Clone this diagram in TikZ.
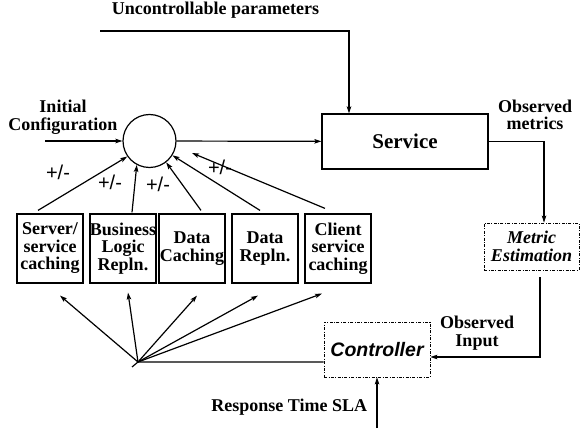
\documentclass[tikz,border=0pt]{standalone}
\usepackage{fontspec}
\setmainfont{Liberation Serif}
\setsansfont{Liberation Sans}
\usetikzlibrary{arrows.meta}
\newcommand{\lbl}{\fontsize{18}{17.5}\selectfont\bfseries}
\tikzset{
  arr/.style={-{Stealth[length=7pt,width=4.5pt,inset=1.5pt]}},
  knob/.style={draw, rectangle, minimum width=66pt, minimum height=69pt, inner sep=0pt, align=center, font=\lbl},
  estbox/.style={draw, dash pattern=on 3pt off 1.5pt on 0.8pt off 1.5pt, line width=0.8pt, rectangle, inner sep=0pt, align=center},
  sign/.style={font=\sffamily\fontsize{20}{20}\selectfont}
}

\begin{document}
\begin{tikzpicture}[x=1pt, y=-1pt, line width=1.2pt]
            \useasboundingbox (0,0) rectangle (580,435);
            % top input and the summing point
            \node[anchor=west, font=\lbl] (unc) at (108,10) {Uncontrollable parameters};
            \coordinate (ustart) at (100,31);
            \node[draw, circle, minimum size=53pt, inner sep=0pt] (mix) at (149.5,141) {};
            \node[align=center, font=\lbl] (ini) at (63,117) {Initial\\Configuration};
            \coordinate (istart) at (45,141);
            \node[draw, rectangle, minimum width=166pt, minimum height=55pt, font=\fontsize{21}{21}\selectfont\bfseries] (svc) at (405,141.5) {Service};
            \node[align=center, font=\lbl] (obsm) at (535,115) {Observed\\metrics};
            % feedback side
            \node[estbox, minimum width=95pt, minimum height=47pt, font=\lbl\itshape] (est) at (531.5,246.5) {Metric\\Estimation};
            \node[estbox, minimum width=106pt, minimum height=55pt, font=\sffamily\bfseries\itshape\fontsize{19.5}{19.5}\selectfont] (ctl) at (377,349.5) {Controller};
            \node[align=center, font=\lbl] (obsi) at (477,333) {Observed\\Input};
            \node[anchor=east, font=\lbl] (sla) at (371,407) {Response Time SLA};
            \coordinate (slain) at (377,428);
            % the five knobs
            \node[knob] (srv) at (50,248.5) {Server/\\service\\caching};
            \node[knob] (blr) at (123,248.5) {Business\\Logic\\Repln.};
            \node[knob] (dca) at (192,248.5) {Data\\Caching};
            \node[knob] (drp) at (265,248.5) {Data\\Repln.};
            \node[knob] (csc) at (338,248.5) {Client\\service\\caching};
            \node[sign] (s1) at (58,172) {+/-};
            \node[sign] (s2) at (110,182) {+/-};
            \node[sign] (s3) at (158,184) {+/-};
            \node[sign] (s4) at (220,167) {+/-};
            \coordinate (cend) at (192,153);
            \coordinate (fan) at (138,362);
            \coordinate (ftail) at (132,367);

            \draw[arr] (ustart) -| ([xshift=-56pt]svc.north);
            \draw[arr] (istart) -- (mix);
            \draw[arr] (mix) -- (svc);
            \draw[arr] (svc.east) -| ([xshift=12.5pt]est.north);
            \draw[arr] ([xshift=8.5pt,yshift=-7pt]est.south) |- ([yshift=-7.5pt]ctl.east);
            \draw[arr] (slain) -- (ctl.south);
            \draw ([yshift=-12.5pt]ctl.west) -- (fan) -- (ftail);

            \draw[arr] ([xshift=-12pt,yshift=3pt]srv.north) -- (mix.215);
            \draw[arr] ([xshift=9pt,yshift=1pt]blr.north) -- (mix.242);
            \draw[arr] ([xshift=9pt,yshift=3pt]dca.north) -- (mix.308);
            \draw[arr] ([xshift=-5pt,yshift=3pt]drp.north) -- (mix.328);
            \draw[arr] ([xshift=-13pt,yshift=5pt]csc.north) -- (cend);

            \draw[arr] (fan) -- ([xshift=10pt,yshift=-12pt]srv.south);
            \draw[arr] (fan) -- ([xshift=5pt,yshift=-9pt]blr.south);
            \draw[arr] (fan) -- ([xshift=5pt,yshift=-12pt]dca.south);
            \draw[arr] (fan) -- ([xshift=-7pt,yshift=-12pt]drp.south);
            \draw[arr] (fan) -- ([xshift=-16pt,yshift=-10pt]csc.south);
        \end{tikzpicture}
\end{document}
